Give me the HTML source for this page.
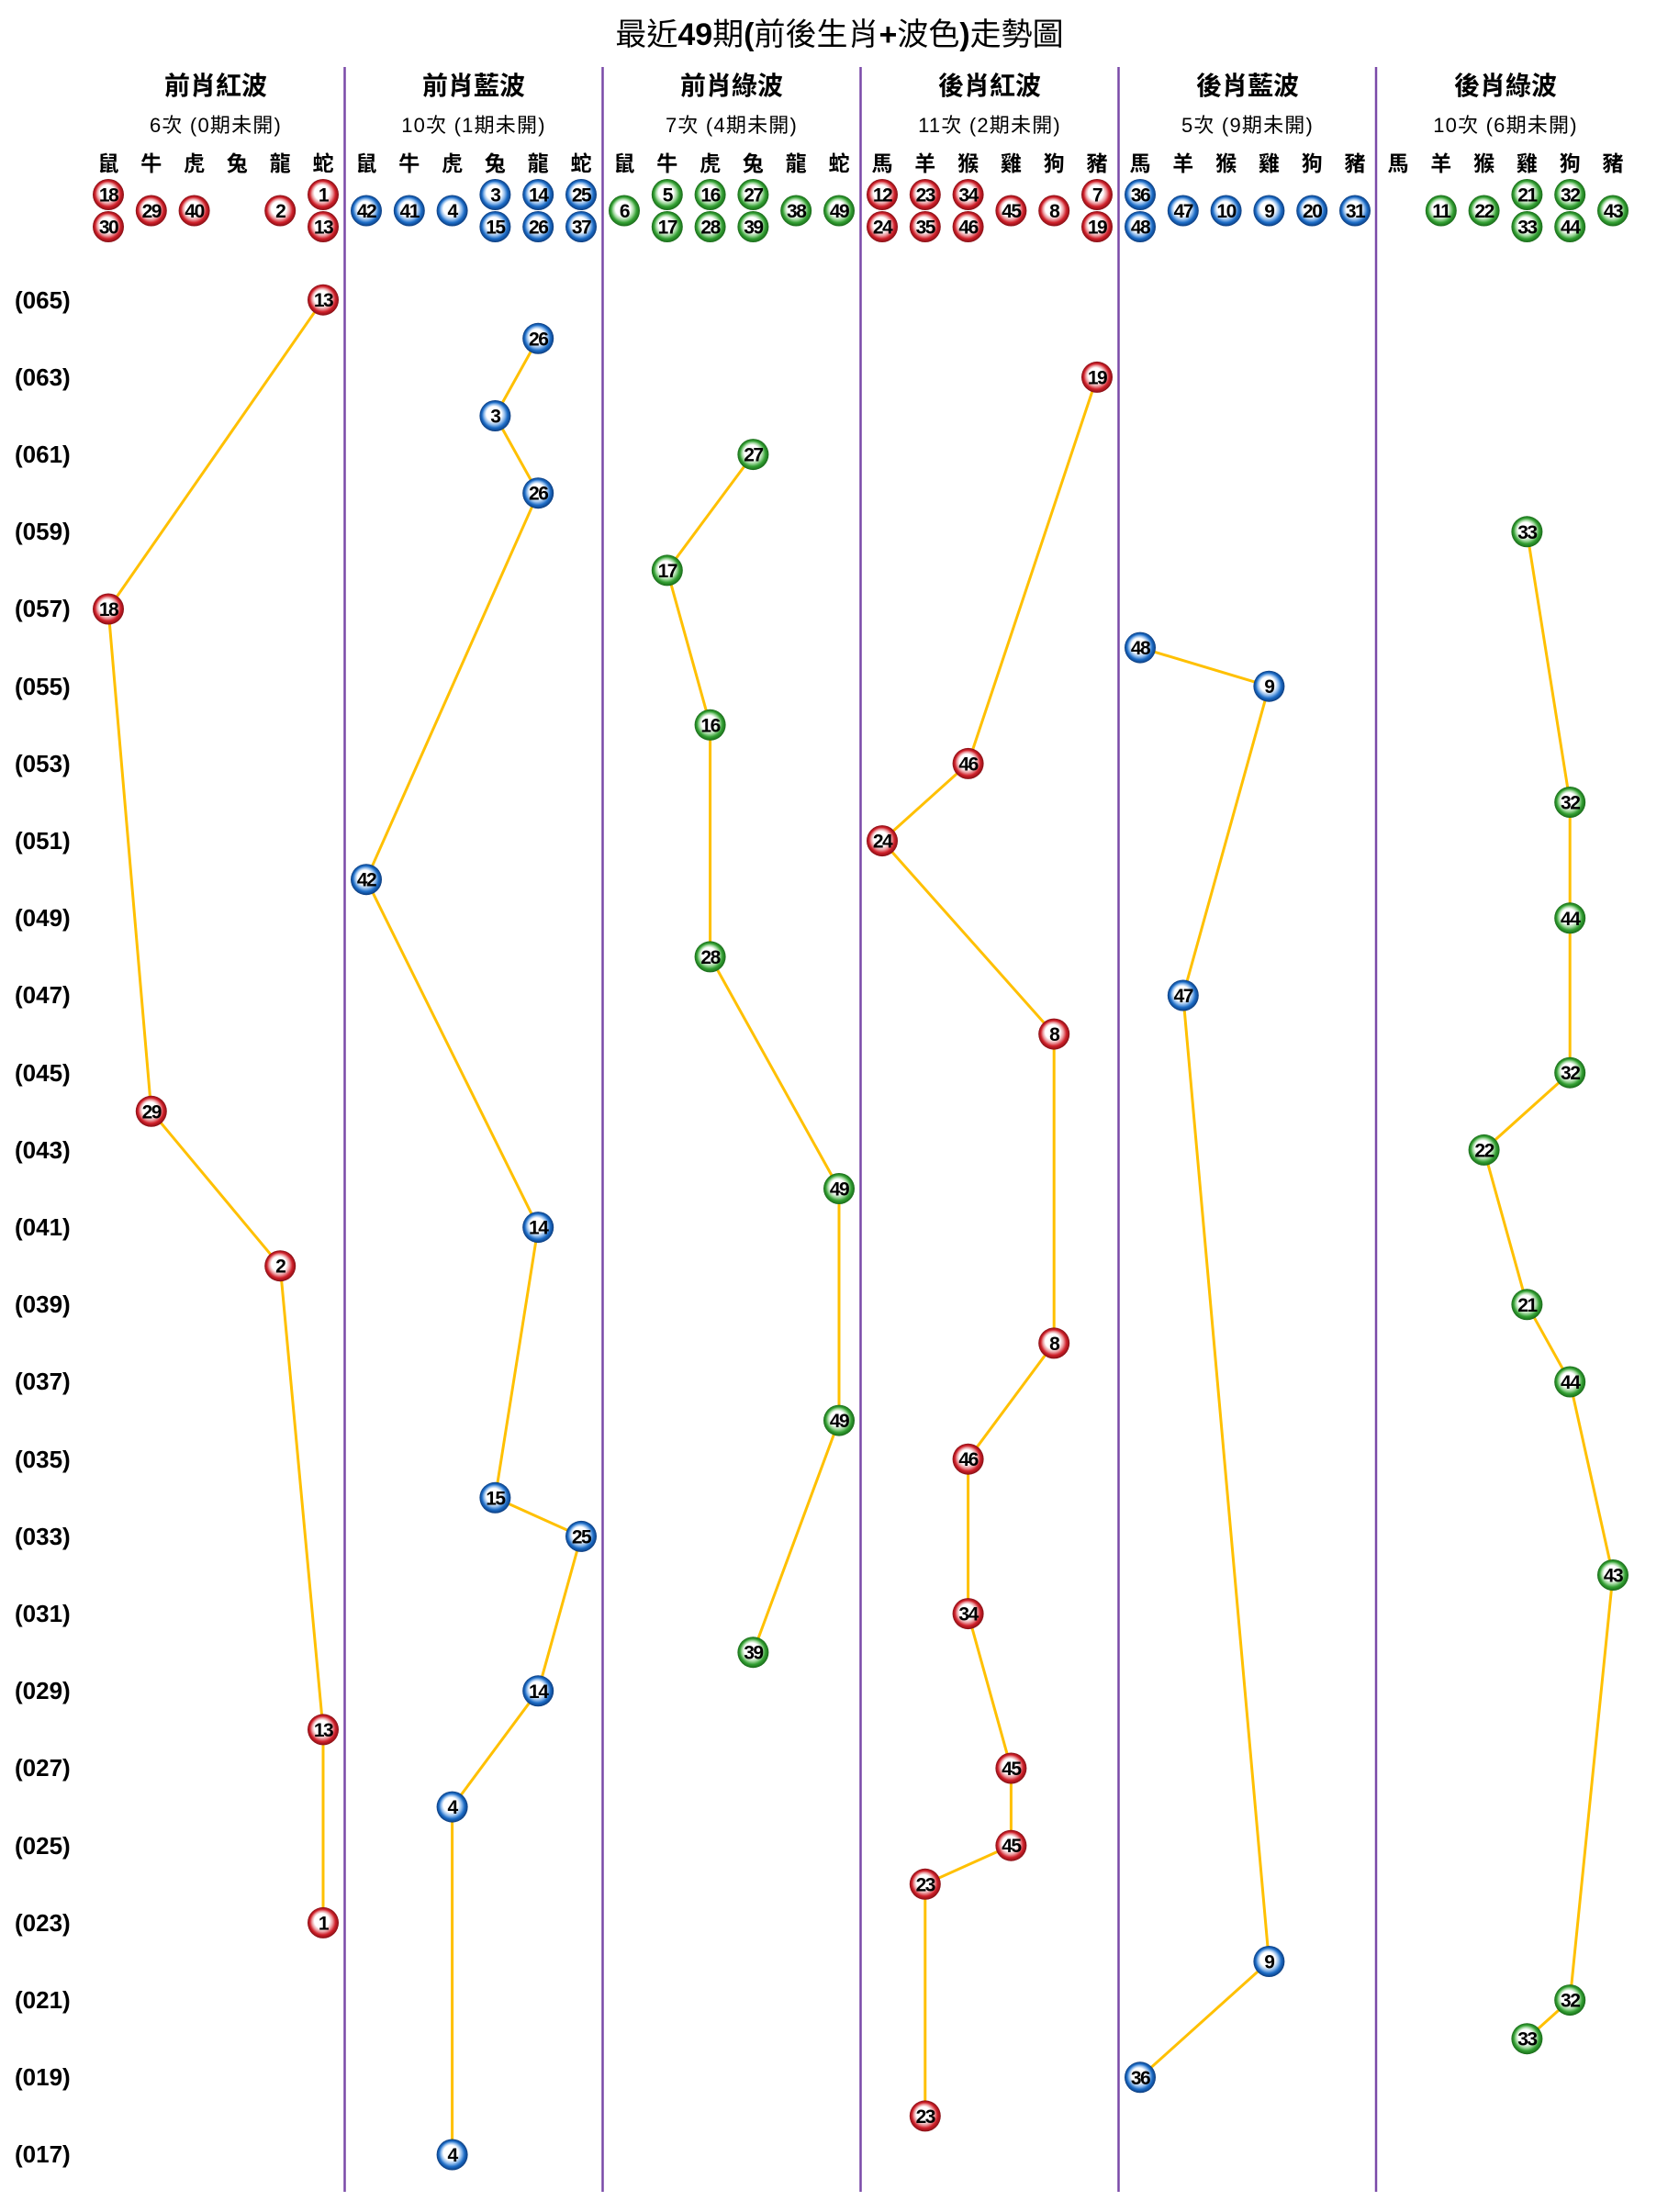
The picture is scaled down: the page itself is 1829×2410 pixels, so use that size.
<!DOCTYPE html>
<html><head><meta charset="utf-8"><style>
html,body{margin:0;padding:0;background:#fff;}
svg{display:block;}
.t{font-family:"Liberation Sans","Noto Sans CJK TC",sans-serif;}
.title{font-size:34px;text-anchor:middle;}
.hd{font-size:28px;text-anchor:middle;font-weight:bold;}
.sub{font-size:22px;text-anchor:middle;letter-spacing:1.2px;}
.zd{font-size:23px;text-anchor:middle;font-weight:bold;}
.rl{font-size:26px;font-weight:bold;}
.n{font-family:"Liberation Sans",sans-serif;font-size:21px;font-weight:bold;text-anchor:middle;fill:#000;letter-spacing:-1.5px;}
.ln{fill:none;stroke:#FFC000;stroke-width:3;stroke-linejoin:round;}
.dv{stroke:#7a4aa8;stroke-width:2.5;}
</style></head><body>
<svg width="1829" height="2410" viewBox="0 0 1829 2410" xmlns="http://www.w3.org/2000/svg">
<defs>
<radialGradient id="gr" cx="50%" cy="50%" r="50%" fx="42%" fy="38%"><stop offset="0" stop-color="#fff"/><stop offset="0.48" stop-color="#fff"/><stop offset="0.66" stop-color="#eb9ca0"/><stop offset="0.82" stop-color="#d0202a"/><stop offset="1" stop-color="#850e14"/></radialGradient>
<radialGradient id="gb" cx="50%" cy="50%" r="50%" fx="42%" fy="38%"><stop offset="0" stop-color="#fff"/><stop offset="0.48" stop-color="#fff"/><stop offset="0.66" stop-color="#93bdec"/><stop offset="0.82" stop-color="#1c6cc6"/><stop offset="1" stop-color="#0b3b7d"/></radialGradient>
<radialGradient id="gg" cx="50%" cy="50%" r="50%" fx="42%" fy="38%"><stop offset="0" stop-color="#fff"/><stop offset="0.48" stop-color="#fff"/><stop offset="0.66" stop-color="#a2d89f"/><stop offset="0.82" stop-color="#33a033"/><stop offset="1" stop-color="#186918"/></radialGradient>
</defs>

<text class="t title" x="914.5" y="49">最近<tspan font-weight="bold">49</tspan>期<tspan font-weight="bold">(</tspan>前後生肖<tspan font-weight="bold">+</tspan>波色<tspan font-weight="bold">)</tspan>走勢圖</text>

<g class="dv">
<line x1="375.5" y1="73" x2="375.5" y2="2388"/>
<line x1="656.5" y1="73" x2="656.5" y2="2388"/>
<line x1="937.5" y1="73" x2="937.5" y2="2388"/>
<line x1="1218.5" y1="73" x2="1218.5" y2="2388"/>
<line x1="1499" y1="73" x2="1499" y2="2388"/>
</g>

<g class="t hd">
<text x="235" y="103">前肖紅波</text>
<text x="516" y="103">前肖藍波</text>
<text x="797" y="103">前肖綠波</text>
<text x="1078" y="103">後肖紅波</text>
<text x="1359" y="103">後肖藍波</text>
<text x="1640" y="103">後肖綠波</text>
</g>
<g class="t sub">
<text x="235" y="144">6次 (0期未開)</text>
<text x="516" y="144">10次 (1期未開)</text>
<text x="797" y="144">7次 (4期未開)</text>
<text x="1078" y="144">11次 (2期未開)</text>
<text x="1359" y="144">5次 (9期未開)</text>
<text x="1640" y="144">10次 (6期未開)</text>
</g>
<g class="t zd">
<text x="118" y="186">鼠</text><text x="164.8" y="186">牛</text><text x="211.6" y="186">虎</text><text x="258.4" y="186">兔</text><text x="305.2" y="186">龍</text><text x="352" y="186">蛇</text>
<text x="399" y="186">鼠</text><text x="445.8" y="186">牛</text><text x="492.6" y="186">虎</text><text x="539.4" y="186">兔</text><text x="586.2" y="186">龍</text><text x="633" y="186">蛇</text>
<text x="680" y="186">鼠</text><text x="726.8" y="186">牛</text><text x="773.6" y="186">虎</text><text x="820.4" y="186">兔</text><text x="867.2" y="186">龍</text><text x="914" y="186">蛇</text>
<text x="961" y="186">馬</text><text x="1007.8" y="186">羊</text><text x="1054.6" y="186">猴</text><text x="1101.4" y="186">雞</text><text x="1148.2" y="186">狗</text><text x="1195" y="186">豬</text>
<text x="1242" y="186">馬</text><text x="1288.8" y="186">羊</text><text x="1335.6" y="186">猴</text><text x="1382.4" y="186">雞</text><text x="1429.2" y="186">狗</text><text x="1476" y="186">豬</text>
<text x="1523" y="186">馬</text><text x="1569.8" y="186">羊</text><text x="1616.6" y="186">猴</text><text x="1663.4" y="186">雞</text><text x="1710.2" y="186">狗</text><text x="1757" y="186">豬</text>
</g>

<g class="t rl">
<text x="16" y="336">(065)</text>
<text x="16" y="420">(063)</text>
<text x="16" y="504">(061)</text>
<text x="16" y="588">(059)</text>
<text x="16" y="672">(057)</text>
<text x="16" y="757">(055)</text>
<text x="16" y="841">(053)</text>
<text x="16" y="925">(051)</text>
<text x="16" y="1009">(049)</text>
<text x="16" y="1093">(047)</text>
<text x="16" y="1178">(045)</text>
<text x="16" y="1262">(043)</text>
<text x="16" y="1346">(041)</text>
<text x="16" y="1430">(039)</text>
<text x="16" y="1514">(037)</text>
<text x="16" y="1599">(035)</text>
<text x="16" y="1683">(033)</text>
<text x="16" y="1767">(031)</text>
<text x="16" y="1851">(029)</text>
<text x="16" y="1935">(027)</text>
<text x="16" y="2020">(025)</text>
<text x="16" y="2104">(023)</text>
<text x="16" y="2188">(021)</text>
<text x="16" y="2272">(019)</text>
<text x="16" y="2356">(017)</text>
</g>

<g class="ln">
<polyline points="352,326.7 118,663.5 164.8,1210.8 305.2,1379.2 352,1884.4 352,2094.9"/>
<polyline points="586.2,368.8 539.4,453 586.2,537.2 399,958.2 586.2,1337.1 539.4,1631.8 633,1673.9 586.2,1842.3 492.6,1968.6 492.6,2347.5"/>
<polyline points="820.4,495.1 726.8,621.4 773.6,789.8 773.6,1042.4 914,1295 914,1547.6 820.4,1800.2"/>
<polyline points="1195,410.9 1054.6,831.9 961,916.1 1148.2,1126.6 1148.2,1463.4 1054.6,1589.7 1054.6,1758.1 1101.4,1926.5 1101.4,2010.7 1007.8,2052.8 1007.8,2305.4"/>
<polyline points="1242,705.6 1382.4,747.7 1288.8,1084.5 1382.4,2137 1242,2263.3"/>
<polyline points="1663.4,579.3 1710.2,874 1710.2,1000.3 1710.2,1168.7 1616.6,1252.9 1663.4,1421.3 1710.2,1505.5 1757,1716 1710.2,2179.1 1663.4,2221.2"/>
</g>

<!-- header balls -->
<g>
<circle cx="118" cy="212" r="17" fill="url(#gr)"/><text class="n" x="118" y="219.5">18</text>
<circle cx="118" cy="247" r="17" fill="url(#gr)"/><text class="n" x="118" y="254.5">30</text>
<circle cx="164.8" cy="229.5" r="17" fill="url(#gr)"/><text class="n" x="164.8" y="237">29</text>
<circle cx="211.6" cy="229.5" r="17" fill="url(#gr)"/><text class="n" x="211.6" y="237">40</text>
<circle cx="305.2" cy="229.5" r="17" fill="url(#gr)"/><text class="n" x="305.2" y="237">2</text>
<circle cx="352" cy="212" r="17" fill="url(#gr)"/><text class="n" x="352" y="219.5">1</text>
<circle cx="352" cy="247" r="17" fill="url(#gr)"/><text class="n" x="352" y="254.5">13</text>

<circle cx="399" cy="229.5" r="17" fill="url(#gb)"/><text class="n" x="399" y="237">42</text>
<circle cx="445.8" cy="229.5" r="17" fill="url(#gb)"/><text class="n" x="445.8" y="237">41</text>
<circle cx="492.6" cy="229.5" r="17" fill="url(#gb)"/><text class="n" x="492.6" y="237">4</text>
<circle cx="539.4" cy="212" r="17" fill="url(#gb)"/><text class="n" x="539.4" y="219.5">3</text>
<circle cx="539.4" cy="247" r="17" fill="url(#gb)"/><text class="n" x="539.4" y="254.5">15</text>
<circle cx="586.2" cy="212" r="17" fill="url(#gb)"/><text class="n" x="586.2" y="219.5">14</text>
<circle cx="586.2" cy="247" r="17" fill="url(#gb)"/><text class="n" x="586.2" y="254.5">26</text>
<circle cx="633" cy="212" r="17" fill="url(#gb)"/><text class="n" x="633" y="219.5">25</text>
<circle cx="633" cy="247" r="17" fill="url(#gb)"/><text class="n" x="633" y="254.5">37</text>

<circle cx="680" cy="229.5" r="17" fill="url(#gg)"/><text class="n" x="680" y="237">6</text>
<circle cx="726.8" cy="212" r="17" fill="url(#gg)"/><text class="n" x="726.8" y="219.5">5</text>
<circle cx="726.8" cy="247" r="17" fill="url(#gg)"/><text class="n" x="726.8" y="254.5">17</text>
<circle cx="773.6" cy="212" r="17" fill="url(#gg)"/><text class="n" x="773.6" y="219.5">16</text>
<circle cx="773.6" cy="247" r="17" fill="url(#gg)"/><text class="n" x="773.6" y="254.5">28</text>
<circle cx="820.4" cy="212" r="17" fill="url(#gg)"/><text class="n" x="820.4" y="219.5">27</text>
<circle cx="820.4" cy="247" r="17" fill="url(#gg)"/><text class="n" x="820.4" y="254.5">39</text>
<circle cx="867.2" cy="229.5" r="17" fill="url(#gg)"/><text class="n" x="867.2" y="237">38</text>
<circle cx="914" cy="229.5" r="17" fill="url(#gg)"/><text class="n" x="914" y="237">49</text>

<circle cx="961" cy="212" r="17" fill="url(#gr)"/><text class="n" x="961" y="219.5">12</text>
<circle cx="961" cy="247" r="17" fill="url(#gr)"/><text class="n" x="961" y="254.5">24</text>
<circle cx="1007.8" cy="212" r="17" fill="url(#gr)"/><text class="n" x="1007.8" y="219.5">23</text>
<circle cx="1007.8" cy="247" r="17" fill="url(#gr)"/><text class="n" x="1007.8" y="254.5">35</text>
<circle cx="1054.6" cy="212" r="17" fill="url(#gr)"/><text class="n" x="1054.6" y="219.5">34</text>
<circle cx="1054.6" cy="247" r="17" fill="url(#gr)"/><text class="n" x="1054.6" y="254.5">46</text>
<circle cx="1101.4" cy="229.5" r="17" fill="url(#gr)"/><text class="n" x="1101.4" y="237">45</text>
<circle cx="1148.2" cy="229.5" r="17" fill="url(#gr)"/><text class="n" x="1148.2" y="237">8</text>
<circle cx="1195" cy="212" r="17" fill="url(#gr)"/><text class="n" x="1195" y="219.5">7</text>
<circle cx="1195" cy="247" r="17" fill="url(#gr)"/><text class="n" x="1195" y="254.5">19</text>

<circle cx="1242" cy="212" r="17" fill="url(#gb)"/><text class="n" x="1242" y="219.5">36</text>
<circle cx="1242" cy="247" r="17" fill="url(#gb)"/><text class="n" x="1242" y="254.5">48</text>
<circle cx="1288.8" cy="229.5" r="17" fill="url(#gb)"/><text class="n" x="1288.8" y="237">47</text>
<circle cx="1335.6" cy="229.5" r="17" fill="url(#gb)"/><text class="n" x="1335.6" y="237">10</text>
<circle cx="1382.4" cy="229.5" r="17" fill="url(#gb)"/><text class="n" x="1382.4" y="237">9</text>
<circle cx="1429.2" cy="229.5" r="17" fill="url(#gb)"/><text class="n" x="1429.2" y="237">20</text>
<circle cx="1476" cy="229.5" r="17" fill="url(#gb)"/><text class="n" x="1476" y="237">31</text>

<circle cx="1569.8" cy="229.5" r="17" fill="url(#gg)"/><text class="n" x="1569.8" y="237">11</text>
<circle cx="1616.6" cy="229.5" r="17" fill="url(#gg)"/><text class="n" x="1616.6" y="237">22</text>
<circle cx="1663.4" cy="212" r="17" fill="url(#gg)"/><text class="n" x="1663.4" y="219.5">21</text>
<circle cx="1663.4" cy="247" r="17" fill="url(#gg)"/><text class="n" x="1663.4" y="254.5">33</text>
<circle cx="1710.2" cy="212" r="17" fill="url(#gg)"/><text class="n" x="1710.2" y="219.5">32</text>
<circle cx="1710.2" cy="247" r="17" fill="url(#gg)"/><text class="n" x="1710.2" y="254.5">44</text>
<circle cx="1757" cy="229.5" r="17" fill="url(#gg)"/><text class="n" x="1757" y="237">43</text>
</g>

<!-- data balls col0 red -->
<g>
<circle cx="352" cy="326.7" r="17" fill="url(#gr)"/><text class="n" x="352" y="334.2">13</text>
<circle cx="118" cy="663.5" r="17" fill="url(#gr)"/><text class="n" x="118" y="671">18</text>
<circle cx="164.8" cy="1210.8" r="17" fill="url(#gr)"/><text class="n" x="164.8" y="1218.3">29</text>
<circle cx="305.2" cy="1379.2" r="17" fill="url(#gr)"/><text class="n" x="305.2" y="1386.7">2</text>
<circle cx="352" cy="1884.4" r="17" fill="url(#gr)"/><text class="n" x="352" y="1891.9">13</text>
<circle cx="352" cy="2094.9" r="17" fill="url(#gr)"/><text class="n" x="352" y="2102.4">1</text>
</g>
<!-- col1 blue -->
<g>
<circle cx="586.2" cy="368.8" r="17" fill="url(#gb)"/><text class="n" x="586.2" y="376.3">26</text>
<circle cx="539.4" cy="453" r="17" fill="url(#gb)"/><text class="n" x="539.4" y="460.5">3</text>
<circle cx="586.2" cy="537.2" r="17" fill="url(#gb)"/><text class="n" x="586.2" y="544.7">26</text>
<circle cx="399" cy="958.2" r="17" fill="url(#gb)"/><text class="n" x="399" y="965.7">42</text>
<circle cx="586.2" cy="1337.1" r="17" fill="url(#gb)"/><text class="n" x="586.2" y="1344.6">14</text>
<circle cx="539.4" cy="1631.8" r="17" fill="url(#gb)"/><text class="n" x="539.4" y="1639.3">15</text>
<circle cx="633" cy="1673.9" r="17" fill="url(#gb)"/><text class="n" x="633" y="1681.4">25</text>
<circle cx="586.2" cy="1842.3" r="17" fill="url(#gb)"/><text class="n" x="586.2" y="1849.8">14</text>
<circle cx="492.6" cy="1968.6" r="17" fill="url(#gb)"/><text class="n" x="492.6" y="1976.1">4</text>
<circle cx="492.6" cy="2347.5" r="17" fill="url(#gb)"/><text class="n" x="492.6" y="2355">4</text>
</g>
<!-- col2 green -->
<g>
<circle cx="820.4" cy="495.1" r="17" fill="url(#gg)"/><text class="n" x="820.4" y="502.6">27</text>
<circle cx="726.8" cy="621.4" r="17" fill="url(#gg)"/><text class="n" x="726.8" y="628.9">17</text>
<circle cx="773.6" cy="789.8" r="17" fill="url(#gg)"/><text class="n" x="773.6" y="797.3">16</text>
<circle cx="773.6" cy="1042.4" r="17" fill="url(#gg)"/><text class="n" x="773.6" y="1049.9">28</text>
<circle cx="914" cy="1295" r="17" fill="url(#gg)"/><text class="n" x="914" y="1302.5">49</text>
<circle cx="914" cy="1547.6" r="17" fill="url(#gg)"/><text class="n" x="914" y="1555.1">49</text>
<circle cx="820.4" cy="1800.2" r="17" fill="url(#gg)"/><text class="n" x="820.4" y="1807.7">39</text>
</g>
<!-- col3 red -->
<g>
<circle cx="1195" cy="410.9" r="17" fill="url(#gr)"/><text class="n" x="1195" y="418.4">19</text>
<circle cx="1054.6" cy="831.9" r="17" fill="url(#gr)"/><text class="n" x="1054.6" y="839.4">46</text>
<circle cx="961" cy="916.1" r="17" fill="url(#gr)"/><text class="n" x="961" y="923.6">24</text>
<circle cx="1148.2" cy="1126.6" r="17" fill="url(#gr)"/><text class="n" x="1148.2" y="1134.1">8</text>
<circle cx="1148.2" cy="1463.4" r="17" fill="url(#gr)"/><text class="n" x="1148.2" y="1470.9">8</text>
<circle cx="1054.6" cy="1589.7" r="17" fill="url(#gr)"/><text class="n" x="1054.6" y="1597.2">46</text>
<circle cx="1054.6" cy="1758.1" r="17" fill="url(#gr)"/><text class="n" x="1054.6" y="1765.6">34</text>
<circle cx="1101.4" cy="1926.5" r="17" fill="url(#gr)"/><text class="n" x="1101.4" y="1934">45</text>
<circle cx="1101.4" cy="2010.7" r="17" fill="url(#gr)"/><text class="n" x="1101.4" y="2018.2">45</text>
<circle cx="1007.8" cy="2052.8" r="17" fill="url(#gr)"/><text class="n" x="1007.8" y="2060.3">23</text>
<circle cx="1007.8" cy="2305.4" r="17" fill="url(#gr)"/><text class="n" x="1007.8" y="2312.9">23</text>
</g>
<!-- col4 blue -->
<g>
<circle cx="1242" cy="705.6" r="17" fill="url(#gb)"/><text class="n" x="1242" y="713.1">48</text>
<circle cx="1382.4" cy="747.7" r="17" fill="url(#gb)"/><text class="n" x="1382.4" y="755.2">9</text>
<circle cx="1288.8" cy="1084.5" r="17" fill="url(#gb)"/><text class="n" x="1288.8" y="1092">47</text>
<circle cx="1382.4" cy="2137" r="17" fill="url(#gb)"/><text class="n" x="1382.4" y="2144.5">9</text>
<circle cx="1242" cy="2263.3" r="17" fill="url(#gb)"/><text class="n" x="1242" y="2270.8">36</text>
</g>
<!-- col5 green -->
<g>
<circle cx="1663.4" cy="579.3" r="17" fill="url(#gg)"/><text class="n" x="1663.4" y="586.8">33</text>
<circle cx="1710.2" cy="874" r="17" fill="url(#gg)"/><text class="n" x="1710.2" y="881.5">32</text>
<circle cx="1710.2" cy="1000.3" r="17" fill="url(#gg)"/><text class="n" x="1710.2" y="1007.8">44</text>
<circle cx="1710.2" cy="1168.7" r="17" fill="url(#gg)"/><text class="n" x="1710.2" y="1176.2">32</text>
<circle cx="1616.6" cy="1252.9" r="17" fill="url(#gg)"/><text class="n" x="1616.6" y="1260.4">22</text>
<circle cx="1663.4" cy="1421.3" r="17" fill="url(#gg)"/><text class="n" x="1663.4" y="1428.8">21</text>
<circle cx="1710.2" cy="1505.5" r="17" fill="url(#gg)"/><text class="n" x="1710.2" y="1513">44</text>
<circle cx="1757" cy="1716" r="17" fill="url(#gg)"/><text class="n" x="1757" y="1723.5">43</text>
<circle cx="1710.2" cy="2179.1" r="17" fill="url(#gg)"/><text class="n" x="1710.2" y="2186.6">32</text>
<circle cx="1663.4" cy="2221.2" r="17" fill="url(#gg)"/><text class="n" x="1663.4" y="2228.7">33</text>
</g>
</svg>
</body></html>
